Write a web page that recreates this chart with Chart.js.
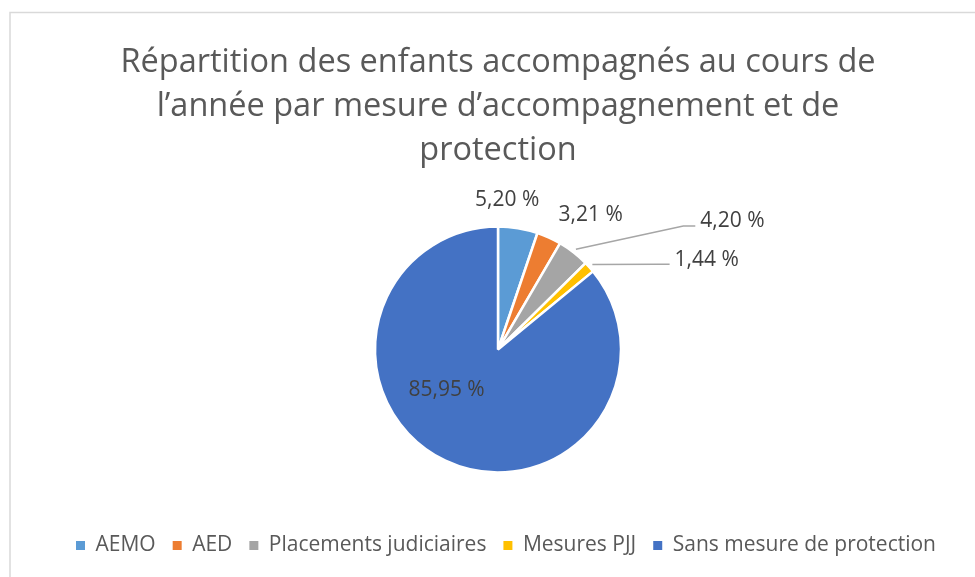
<!DOCTYPE html>
<html>
<head>
<meta charset="utf-8">
<script src="https://cdn.jsdelivr.net/npm/chart.js@4"></script>
<style>
  html, body { margin: 0; padding: 0; background: #ffffff; }
  #wrap { position: relative; width: 975px; height: 577px; }
</style>
</head>
<body>
<div id="wrap"><canvas id="c" width="975" height="577"></canvas></div>
<script>
// ---- data ----
const titleLines = [
  "Répartition des enfants accompagnés au cours de",
  "l’année par mesure d’accompagnement et de",
  "protection"
];
const categories = ["AEMO", "AED", "Placements judiciaires", "Mesures PJJ", "Sans mesure de protection"];
const values = [5.20, 3.21, 4.20, 1.44, 85.95];
const valueLabels = ["5,20 %", "3,21 %", "4,20 %", "1,44 %", "85,95 %"];
const colors = ["#5B9BD5", "#ED7D31", "#A5A5A5", "#FFC000", "#4472C4"];

// ---- label placement (style, in units of pie radius, relative to pie centre) ----
const labelPlacement = [
  { dx: 0.074, dy: -1.213, leader: false },
  { dx: 0.754, dy: -1.094, leader: false },
  { dx: 1.906, dy: -1.041, leader: true },
  { dx: 1.697, dy: -0.729, leader: true },
  { dx: -0.418, dy: 0.328, leader: false }
];

const frameBorder = {
  id: 'frameBorder',
  beforeDraw(chart) {
    const ctx = chart.ctx;
    ctx.save();
    ctx.strokeStyle = '#d9d9d9';
    ctx.lineWidth = 1.5;
    ctx.strokeRect(10, 12.5, 1200, 1200);
    ctx.restore();
  }
};

const legendShift = {
  id: 'legendShift',
  afterLayout(chart) {
    if (chart.legend) {
      chart.legend.left += 8;
      chart.legend.right += 8;
    }
  }
};

const pieLabels = {
  id: 'pieLabels',
  afterDatasetsDraw(chart) {
    const ctx = chart.ctx;
    const meta = chart.getDatasetMeta(0);
    ctx.save();
    ctx.font = '21px "Open Sans"';
    ctx.textBaseline = 'middle';
    ctx.textAlign = 'center';
    meta.data.forEach((arc, i) => {
      const p = arc.getProps(['x', 'y', 'startAngle', 'endAngle', 'outerRadius'], true);
      const r = p.outerRadius;
      const pl = labelPlacement[i];
      const lx = p.x + pl.dx * r;
      const ly = p.y + pl.dy * r;
      const text = valueLabels[i];
      const w = ctx.measureText(text).width;
      if (pl.leader) {
        const mid = (p.startAngle + p.endAngle) / 2;
        const sx = p.x + Math.cos(mid) * (r + 4);
        const sy = p.y + Math.sin(mid) * (r + 4);
        const ex = lx - w / 2 - 5;
        const ey = ly + 4.5;
        ctx.beginPath();
        ctx.strokeStyle = '#a6a6a6';
        ctx.lineWidth = 1.5;
        ctx.moveTo(sx, sy);
        ctx.lineTo(ex - 12, ey);
        ctx.lineTo(ex, ey);
        ctx.stroke();
      }
      ctx.fillStyle = '#404040';
      ctx.fillText(text, lx, ly);
    });
    ctx.restore();
  }
};

new Chart(document.getElementById('c'), {
  type: 'pie',
  data: {
    labels: categories,
    datasets: [{
      data: values,
      backgroundColor: colors,
      borderColor: '#ffffff',
      borderWidth: 2.5
    }]
  },
  options: {
    responsive: false,
    animation: false,
    devicePixelRatio: 1,
    radius: 123,
    layout: { padding: { left: 21, right: 0, top: 0, bottom: 11 } },
    plugins: {
      title: {
        display: true,
        text: titleLines,
        color: '#595959',
        font: { family: '"Open Sans"', size: 32.5, weight: 'normal', lineHeight: 1.354 },
        padding: { top: 41, bottom: 8 }
      },
      legend: {
        position: 'bottom',
        labels: {
          color: '#595959',
          font: { family: '"Open Sans"', size: 21 },
          boxWidth: 9,
          boxHeight: 9,
          padding: 17,
          generateLabels(chart) {
            const items = Chart.overrides.pie.plugins.legend.labels.generateLabels(chart);
            items.forEach(it => { it.lineWidth = 0; it.strokeStyle = 'rgba(0,0,0,0)'; });
            return items;
          }
        }
      },
      tooltip: { enabled: false }
    }
  },
  plugins: [frameBorder, legendShift, pieLabels]
});
</script>
</body>
</html>
